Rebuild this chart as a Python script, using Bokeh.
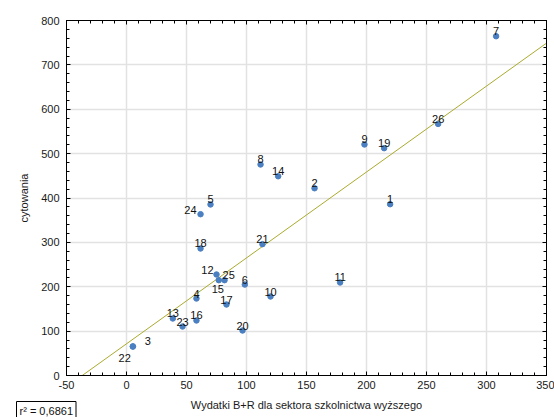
from bokeh.plotting import figure
from bokeh.models import (ColumnDataSource, Range1d, LinearAxis, SingleIntervalTicker, Label,
                          CustomJSTickFormatter)
from bokeh.embed import file_html
from bokeh.resources import INLINE
from bokeh.core.properties import value

# ---- data ----
ids = [1, 2, 3, 4, 5, 6, 7, 8, 9, 10, 11, 12, 13, 14, 15, 16, 17, 18, 19, 20, 21, 22, 23, 24, 25, 26]
wydatki = [219.7, 156.7, 5.3, 58.3, 70.0, 98.6, 308.0, 111.7, 198.3, 120.0, 178.0, 75.0, 38.6, 126.4,
           76.9, 58.3, 83.3, 61.7, 214.7, 96.7, 113.3, 5.3, 46.7, 61.7, 81.7, 259.7]
cytowania = [386.0, 422.0, 65.4, 173.5, 385.4, 205.0, 764.6, 475.5, 520.6, 178.0, 209.6, 227.6, 128.5, 449.0,
             214.8, 124.0, 160.0, 286.2, 512.3, 101.4, 296.0, 65.4, 110.4, 363.5, 214.8, 567.0]
fit_intercept = 71.4
fit_slope = 1.936
r2_text = "r\u00b2 = 0,6861"
x_label = "Wydatki B+R dla sektora szkolnictwa wy\u017cszego"
y_label = "cytowania"

# label placement tweaks (style only): x_offset, y_offset, align, baseline
default = (0, -1, "center", "bottom")
tweaks = {
    24: (-4, -4, "right", "middle"),
    12: (-3, -1, "right", "bottom"),
    25: (-2, -1, "left", "bottom"),
    15: (-1, 5, "center", "top"),
    3: (12, -1, "left", "bottom"),
    22: (-2, 8, "right", "top"),
}
xo, yo, al, bl = [], [], [], []
for i in ids:
    t = tweaks.get(i, default)
    xo.append(t[0]); yo.append(t[1]); al.append(t[2]); bl.append(t[3])

src = ColumnDataSource(dict(x=wydatki, y=cytowania, t=[str(i) for i in ids],
                            xo=xo, yo=yo, al=al, bl=bl))

FONT = "Liberation Sans"
p = figure(width=554, height=417, output_backend="svg", toolbar_location=None,
           x_range=Range1d(-50, 350), y_range=Range1d(0, 800),
           min_border_left=66, min_border_right=8, min_border_top=20, min_border_bottom=42,
           x_axis_label=x_label, y_axis_label=y_label)
p.background_fill_color = "white"
p.border_fill_color = "white"
p.outline_line_color = "black"
p.outline_line_width = 1

xt = SingleIntervalTicker(interval=50, num_minor_ticks=5)
yt = SingleIntervalTicker(interval=100, num_minor_ticks=5)
p.xaxis.ticker = xt
p.yaxis.ticker = yt
p.xgrid.ticker = xt
p.ygrid.ticker = yt
for g in (p.xgrid, p.ygrid):
    g.grid_line_color = "#e2e2e2"
    g.grid_line_width = 1.5

plain = CustomJSTickFormatter(code="return tick.toString();")
blank = CustomJSTickFormatter(code="return '';")

def style_axis(ax):
    ax.axis_line_color = "black"
    ax.major_tick_in = 4
    ax.major_tick_out = 0
    ax.minor_tick_in = 3
    ax.minor_tick_out = 0
    ax.major_tick_line_color = "black"
    ax.minor_tick_line_color = "black"
    ax.major_label_text_font = FONT
    ax.major_label_text_font_size = "11px"
    ax.major_label_text_color = "#1a1a1a"
    ax.axis_label_text_font = FONT
    ax.axis_label_text_font_size = "11px"
    ax.axis_label_text_font_style = "normal"
    ax.axis_label_text_color = "#1a1a1a"

for ax in p.xaxis:
    style_axis(ax)
    ax.formatter = plain
    ax.major_label_standoff = 5
    ax.axis_label_standoff = 7
for ax in p.yaxis:
    style_axis(ax)
    ax.formatter = plain
    ax.major_label_standoff = 7
    ax.axis_label_standoff = 8

top = LinearAxis(ticker=xt, formatter=blank)
style_axis(top)
top.major_label_standoff = 0
right = LinearAxis(ticker=yt, formatter=blank)
style_axis(right)
right.major_label_standoff = 0
p.add_layout(top, "above")
p.add_layout(right, "right")

# regression line
lx = [-50, 350]
ly = [fit_intercept + fit_slope * v for v in lx]
p.line(lx, ly, line_color="#aaaa2e", line_width=1)

p.scatter("x", "y", source=src, size=5.5, fill_color="#4a7fc1", line_color="#4a7fc1")
p.text("x", "y", text="t", source=src, x_offset="xo", y_offset="yo",
       text_align="al", text_baseline="bl", text_font=value(FONT),
       text_font_size="11px", text_color="#111111")

# r^2 box in the bottom-left corner (placed in a side panel so it is not clipped to the frame)
r2 = Label(x=16, y=419, x_units="canvas", y_units="canvas", text=r2_text,
           text_baseline="bottom", text_align="left",
           text_font=FONT, text_font_size="11px", text_color="#111111",
           border_line_color="black", border_line_width=1,
           background_fill_color="white", padding=3)
p.add_layout(r2, "above")

open("out.html", "w").write(file_html(p, INLINE))
